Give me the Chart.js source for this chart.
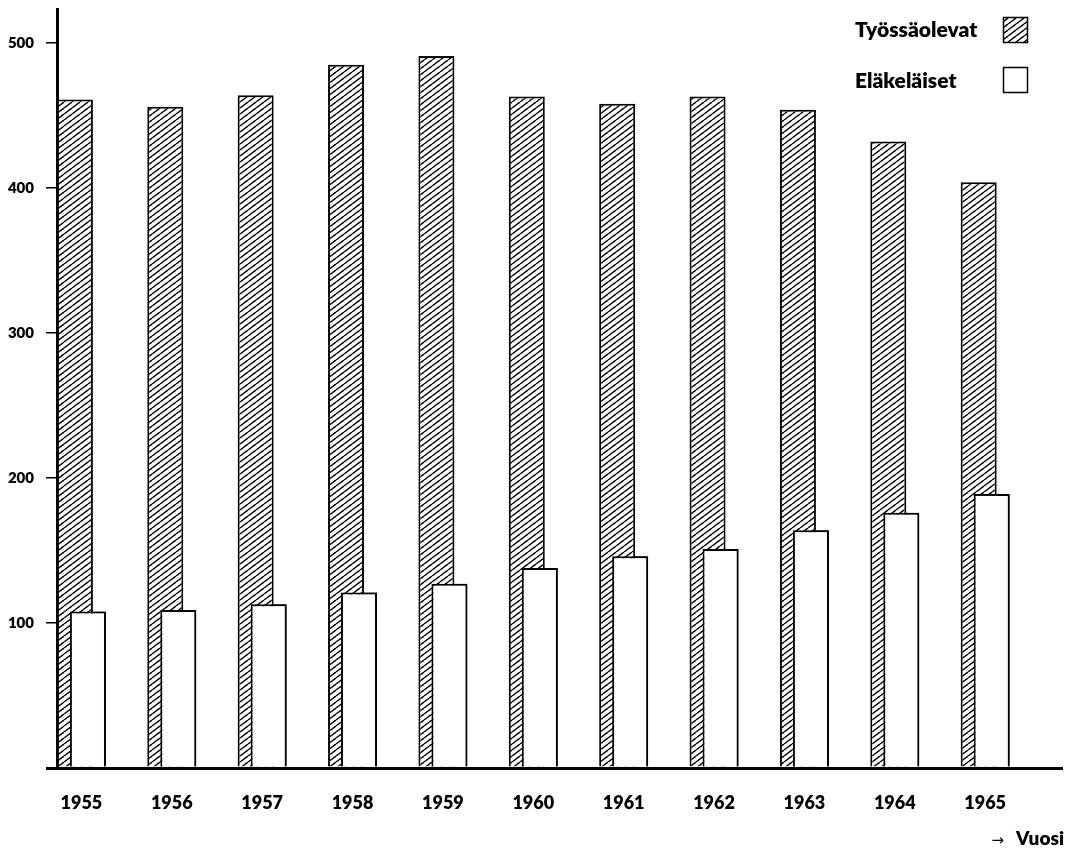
<!DOCTYPE html>
<html>
<head>
<meta charset="utf-8">
<script src="https://cdn.jsdelivr.net/npm/chart.js@4.4.1/dist/chart.umd.min.js"></script>
<style>
  html, body { margin: 0; padding: 0; background: #ffffff; }
  #wrap { width: 1075px; height: 849px; position: relative; }
</style>
</head>
<body>
<div id="wrap"><canvas id="c"></canvas></div>
<script>
// ---- data ----
const years = [1955, 1956, 1957, 1958, 1959, 1960, 1961, 1962, 1963, 1964, 1965];
const tyossaolevat = [461, 456, 464, 485, 491, 463, 458, 463, 454, 432, 404];
const elakelaiset = [108, 109, 113, 121, 127, 138, 146, 151, 164, 176, 189];
const yTickValues = [0, 100, 200, 300, 400, 500];
const seriesNames = ['Työssäolevat', 'Eläkeläiset'];
const axisArrow = '→';
const axisTitle = 'Vuosi';

function makeHatch() {
  const w = 8, h = 6;
  const t = document.createElement('canvas');
  t.width = w; t.height = h;
  const g = t.getContext('2d');
  g.fillStyle = '#ffffff';
  g.fillRect(0, 0, w, h);
  g.strokeStyle = '#000000';
  g.lineWidth = 1.4;
  for (let m = -1; m <= 1; m++) {
    g.beginPath();
    g.moveTo(0, h + m * h);
    g.lineTo(w, m * h);
    g.stroke();
  }
  return g.createPattern(t, 'repeat');
}

function build() {
  const hatch = makeHatch();

  const whiteOnTop = {
    id: 'whiteOnTop',
    afterDatasetsDraw(chart) {
      const meta = chart.getDatasetMeta(1);
      if (meta && meta.controller) meta.controller.draw();
    }
  };

  const legendAndTitle = {
    id: 'legendAndTitle',
    afterDraw(chart) {
      const ctx = chart.ctx;
      ctx.save();
      ctx.fillStyle = '#000';
      ctx.textBaseline = 'alphabetic';
      ctx.textAlign = 'left';
      ctx.font = '800 21px Lato';
      ctx.fillText(seriesNames[0], 855, 37);
      ctx.fillText(seriesNames[1], 855, 88);
      // swatches
      ctx.fillStyle = hatch;
      ctx.fillRect(1003, 17, 25, 26);
      ctx.lineWidth = 1.5;
      ctx.strokeStyle = '#000';
      ctx.strokeRect(1003.5, 17.5, 24, 25);
      ctx.fillStyle = '#fff';
      ctx.fillRect(1003, 67, 25, 26);
      ctx.strokeRect(1003.5, 67.5, 24, 25);
      // axis title
      ctx.fillStyle = '#000';
      ctx.textAlign = 'right';
      ctx.font = '800 19px Lato';
      ctx.fillText(axisTitle, 1064, 845);
      const tw = ctx.measureText(axisTitle).width;
      ctx.font = '15px "DejaVu Sans"';
      ctx.fillText(axisArrow, 1064 - tw - 12, 845);
      ctx.restore();
    }
  };

  new Chart(document.getElementById('c'), {
    type: 'bar',
    data: {
      datasets: [
        {
          label: seriesNames[0],
          data: years.map((yr, i) => ({ x: yr, y: tyossaolevat[i] })),
          backgroundColor: hatch,
          borderColor: '#000',
          borderWidth: 2,
          categoryPercentage: 0.2876,
          barPercentage: 2.77
        },
        {
          label: seriesNames[1],
          data: years.map((yr, i) => ({ x: yr, y: elakelaiset[i] })),
          backgroundColor: '#ffffff',
          borderColor: '#000',
          borderWidth: 2,
          categoryPercentage: 0.2876,
          barPercentage: 2.77
        }
      ]
    },
    options: {
      responsive: true,
      maintainAspectRatio: false,
      animation: false,
      events: [],
      layout: { padding: { top: 9, right: 13, left: 0, bottom: 0 } },
      plugins: { legend: { display: false }, tooltip: { enabled: false } },
      scales: {
        x: {
          type: 'linear',
          offset: false,
          min: 1954.73,
          max: 1965.85,
          afterBuildTicks: (s) => { s.ticks = years.map(v => ({ value: v })); },
          afterFit: (s) => { s.height = 81; s.paddingLeft = 0; s.paddingRight = 0; },
          grid: { display: false, drawTicks: false, offset: false },
          border: { display: true, color: '#000', width: 3 },
          ticks: {
            padding: 24,
            color: '#000',
            autoSkip: false,
            maxRotation: 0,
            font: { family: 'Lato', weight: '800', size: 18 },
            callback: (v) => String(v)
          }
        },
        y: {
          min: 0,
          max: 523.4,
          afterBuildTicks: (s) => { s.ticks = yTickValues.map(v => ({ value: v })); },
          afterFit: (s) => { s.width = 57; s.paddingTop = 0; s.paddingBottom = 0; },
          grid: {
            drawOnChartArea: false,
            drawTicks: true,
            tickLength: 11,
            color: '#000',
            lineWidth: (c) => (c.tick && c.tick.value === 0 ? 3 : 1.5)
          },
          border: { display: true, color: '#000', width: 3 },
          ticks: {
            padding: 12,
            color: '#000',
            font: { family: 'Lato', weight: '800', size: 15 },
            callback: (v) => (v === 0 ? '' : String(v))
          }
        }
      }
    },
    plugins: [whiteOnTop, legendAndTitle]
  });
}

const fontsReady = (document.fonts && document.fonts.load)
  ? Promise.all([
      document.fonts.load('800 21px Lato'),
      document.fonts.load('800 15px Lato'),
      document.fonts.load('15px "DejaVu Sans"')
    ]).catch(() => {})
  : Promise.resolve();
fontsReady.then(build, build);
</script>
</body>
</html>
